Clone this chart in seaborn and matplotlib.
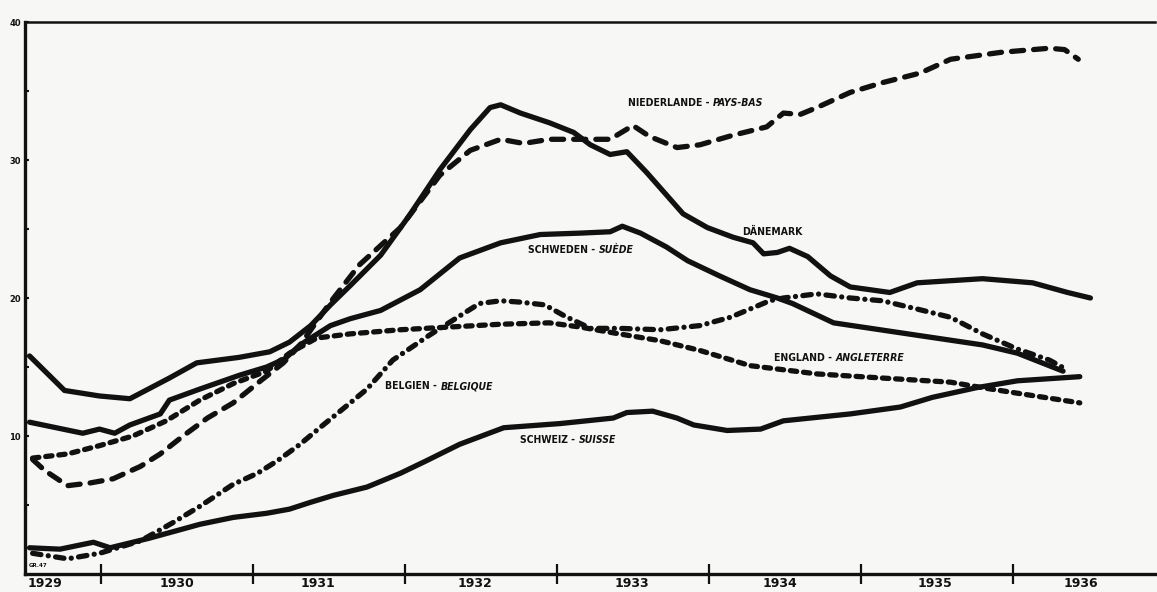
import matplotlib
matplotlib.use("Agg")
import matplotlib.pyplot as plt
import seaborn as sns
from matplotlib.offsetbox import TextArea, HPacker, AnnotationBbox

# unemployment index (x in years, y in %)
nl_x = [1929.55, 1929.63, 1929.78, 1929.93, 1930.08, 1930.26, 1930.39, 1930.54, 1930.70, 1930.87,
        1931.05, 1931.20, 1931.31, 1931.51, 1931.70, 1931.97, 1932.23, 1932.43, 1932.63, 1932.78,
        1932.95, 1933.17, 1933.35, 1933.50, 1933.61, 1933.79, 1933.94, 1934.16, 1934.38, 1934.49,
        1934.60, 1934.71, 1934.93, 1935.14, 1935.39, 1935.59, 1935.92, 1936.24, 1936.34, 1936.43]
nl_y = [8.3, 7.5, 6.4, 6.6, 6.9, 7.8, 8.7, 10.0, 11.3, 12.4,
        14.0, 15.3, 16.6, 19.7, 22.4, 25.1, 28.9, 30.7, 31.5, 31.2,
        31.5, 31.5, 31.5, 32.5, 31.7, 30.9, 31.1, 31.8, 32.4, 33.4,
        33.3, 33.8, 34.9, 35.6, 36.3, 37.3, 37.8, 38.1, 38.0, 37.3]

dk_x = [1929.53, 1929.76, 1929.99, 1930.19, 1930.45, 1930.63, 1930.91, 1931.11, 1931.24, 1931.38,
        1931.51, 1931.64, 1931.84, 1932.03, 1932.23, 1932.43, 1932.56, 1932.63, 1932.76, 1932.95,
        1933.11, 1933.22, 1933.35, 1933.46, 1933.59, 1933.83, 1933.99, 1934.16, 1934.29, 1934.36,
        1934.45, 1934.53, 1934.65, 1934.80, 1934.93, 1935.19, 1935.37, 1935.80, 1936.13, 1936.36,
        1936.51]
dk_y = [15.8, 13.3, 12.9, 12.7, 14.2, 15.3, 15.7, 16.1, 16.8, 18.0,
        19.5, 20.9, 23.1, 26.0, 29.3, 32.2, 33.8, 34.0, 33.4, 32.7,
        32.0, 31.1, 30.4, 30.6, 29.1, 26.1, 25.1, 24.4, 24.0, 23.2,
        23.3, 23.6, 23.0, 21.6, 20.8, 20.4, 21.1, 21.4, 21.1, 20.4,
        20.0]

se_x = [1929.53, 1929.88, 1929.99, 1930.09, 1930.19, 1930.39, 1930.45, 1930.65, 1930.91, 1931.09,
        1931.21, 1931.31, 1931.51, 1931.64, 1931.84, 1932.10, 1932.36, 1932.63, 1932.89, 1933.15,
        1933.35, 1933.43, 1933.55, 1933.72, 1933.86, 1934.07, 1934.27, 1934.45, 1934.55, 1934.82,
        1935.37, 1935.80, 1936.03, 1936.33]
se_y = [11.0, 10.2, 10.5, 10.2, 10.8, 11.6, 12.6, 13.4, 14.4, 15.0,
        15.6, 16.6, 18.0, 18.5, 19.1, 20.6, 22.9, 24.0, 24.6, 24.7,
        24.8, 25.2, 24.7, 23.7, 22.7, 21.6, 20.6, 20.0, 19.6, 18.2,
        17.3, 16.6, 16.0, 14.7]

en_x = [1929.55, 1929.78, 1929.99, 1930.21, 1930.43, 1930.65, 1930.87, 1931.09, 1931.24, 1931.42,
        1931.64, 1931.97, 1932.30, 1932.63, 1932.95, 1933.15, 1933.41, 1933.68, 1933.94, 1934.27,
        1934.71, 1935.14, 1935.59, 1935.80, 1936.03, 1936.44]
en_y = [8.4, 8.7, 9.3, 10.0, 11.1, 12.6, 13.8, 14.7, 16.0, 17.1,
        17.4, 17.7, 17.9, 18.1, 18.2, 17.9, 17.4, 16.9, 16.2, 15.1,
        14.5, 14.2, 13.9, 13.5, 13.1, 12.4]

be_x = [1929.55, 1929.78, 1929.99, 1930.26, 1930.47, 1930.65, 1930.87, 1931.03, 1931.16, 1931.31,
        1931.44, 1931.64, 1931.75, 1931.92, 1932.16, 1932.36, 1932.49, 1932.63, 1932.76, 1932.92,
        1933.05, 1933.22, 1933.41, 1933.68, 1933.94, 1934.14, 1934.40, 1934.49, 1934.71, 1934.93,
        1935.14, 1935.37, 1935.59, 1935.80, 1936.03, 1936.24, 1936.34]
be_y = [1.5, 1.1, 1.5, 2.4, 3.7, 4.9, 6.5, 7.3, 8.2, 9.4,
        10.6, 12.4, 13.4, 15.5, 17.3, 18.7, 19.6, 19.8, 19.7, 19.5,
        18.7, 17.8, 17.8, 17.7, 18.0, 18.6, 19.8, 20.0, 20.3, 20.0,
        19.8, 19.2, 18.6, 17.4, 16.3, 15.5, 14.9]

ch_x = [1929.53, 1929.73, 1929.95, 1930.06, 1930.32, 1930.65, 1930.87, 1931.09, 1931.24, 1931.38,
        1931.53, 1931.75, 1931.97, 1932.14, 1932.36, 1932.65, 1933.02, 1933.37, 1933.46, 1933.63,
        1933.79, 1933.90, 1934.12, 1934.34, 1934.49, 1934.93, 1935.26, 1935.47, 1935.76, 1936.03,
        1936.44]
ch_y = [1.9, 1.8, 2.3, 1.9, 2.6, 3.6, 4.1, 4.4, 4.7, 5.2,
        5.7, 6.3, 7.3, 8.2, 9.4, 10.6, 10.9, 11.3, 11.7, 11.8,
        11.3, 10.8, 10.4, 10.5, 11.1, 11.6, 12.1, 12.8, 13.5, 14.0,
        14.3]

labels = [
    ("NIEDERLANDE - ", "PAYS-BAS"),
    ("DÄNEMARK", ""),
    ("SCHWEDEN - ", "SUÈDE"),
    ("ENGLAND - ", "ANGLETERRE"),
    ("BELGIEN - ", "BELGIQUE"),
    ("SCHWEIZ - ", "SUISSE"),
]
years = ["1929", "1930", "1931", "1932", "1933", "1934", "1935", "1936"]

PAPER = "#f7f7f5"
INK = "#111111"
LW = 3.8

sns.set_theme(style="white")
plt.rcParams['font.family'] = ['DejaVu Sans']

fig = plt.figure(figsize=(11.57, 5.92), dpi=100)
fig.patch.set_facecolor(PAPER)
ax = fig.add_axes([25 / 1157, 18 / 592, 1130 / 1157, 552 / 592])
ax.set_facecolor(PAPER)

series = [
    (nl_x, nl_y, (0, (2.3, 1.9))),
    (dk_x, dk_y, "-"),
    (se_x, se_y, "-"),
    (en_x, en_y, (0, (1.2, 1.3))),
    (be_x, be_y, (0, (1.6, 1.4, 0.01, 1.4))),
    (ch_x, ch_y, "-"),
]
for xs, ys, ls in series:
    sns.lineplot(x=xs, y=ys, ax=ax, color=INK, lw=LW, linestyle=ls, sort=False,
                 dash_capstyle="round", solid_capstyle="round", solid_joinstyle="round")

# labels next to the curves (left-centre, data coords)
label_pos = [(1933.47, 34.1), (1934.22, 24.8), (1932.81, 23.5),
             (1934.43, 15.65), (1931.87, 13.6), (1932.76, 9.7)]
for (a, b), (lx, ly) in zip(labels, label_pos):
    parts = [TextArea(a, textprops=dict(fontsize=7.5, fontweight="bold", color=INK,
                                         fontstretch="condensed"))]
    if b:
        parts.append(TextArea(b, textprops=dict(fontsize=7.5, fontweight="bold", color=INK,
                                                style="italic", fontstretch="condensed")))
    box = HPacker(children=parts, pad=0, sep=0)
    ax.add_artist(AnnotationBbox(box, (lx, ly), frameon=False, box_alignment=(0, 0.5), pad=0))

ax.set_xlim(1929.50, 1936.935)
ax.set_ylim(0, 40)

# year boundaries as ticks, year names centred between them
ax.set_xticks(range(1930, 1937))
ax.set_xticklabels([])
ax.set_xticks([1929.63, 1930.5, 1931.43, 1932.46, 1933.49, 1934.47, 1935.49, 1936.45], minor=True)
ax.set_xticklabels(years, minor=True, fontsize=9, fontweight="bold", color=INK)
ax.tick_params(axis="x", which="major", direction="inout", length=14, width=1.6, color=INK, bottom=True)
ax.tick_params(axis="x", which="minor", length=0, pad=2, bottom=True)

ax.set_yticks([10, 20, 30, 40])
ax.set_yticklabels(["10", "20", "30", "40"], fontsize=6, fontweight="bold", color=INK)
ax.set_yticks([5, 15, 25, 35], minor=True)
ax.tick_params(axis="y", which="both", direction="in", length=3, width=1.5, color=INK, left=True, pad=3)

for side in ["left", "bottom"]:
    ax.spines[side].set_linewidth(2.4)
    ax.spines[side].set_color(INK)
ax.spines["top"].set_linewidth(1.8)
ax.spines["top"].set_color(INK)
ax.spines["right"].set_visible(False)
ax.set_xlabel("")
ax.set_ylabel("")

ax.text(0.003, 0.012, "GR.47", transform=ax.transAxes, fontsize=4, fontweight="bold", color=INK)

fig.savefig("out.png", dpi=100, facecolor=PAPER)
